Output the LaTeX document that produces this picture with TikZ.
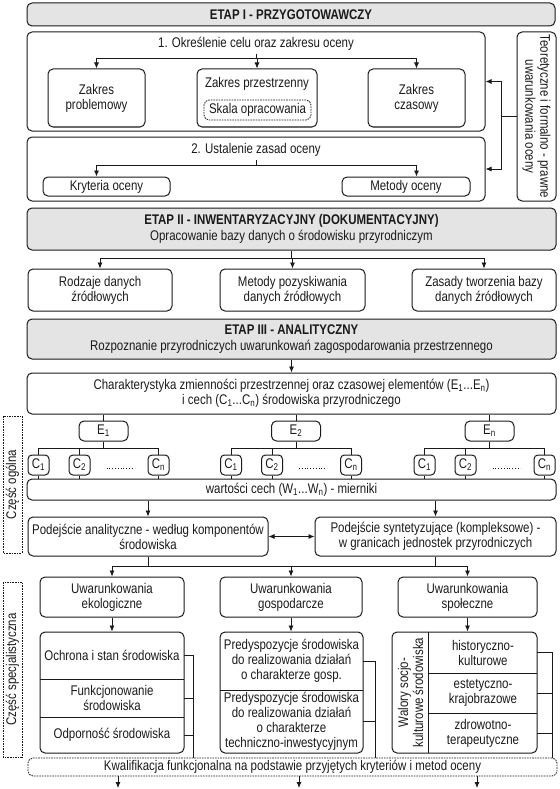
\documentclass[tikz,border=0pt]{standalone}
\usepackage{fontspec}
\setmainfont{Liberation Sans}[FakeStretch=0.82]
\usetikzlibrary{arrows.meta,positioning}
\definecolor{ink}{HTML}{1A1A1A}
\definecolor{stagegrey}{HTML}{E4E4E4}
\newcommand{\diagfont}{\fontsize{14}{15}\selectfont}

\begin{document}
\begin{tikzpicture}[x=1pt, y=-1pt, every node/.style={font=\diagfont, text=ink},
  spanning/.style n args={4}{at={({(#1+#3)/2},{(#2+#4)/2})}, minimum width={#3-#1}, minimum height={#4-#2}},
  box/.style={draw=ink, line width=1pt, rounded corners=5pt, inner sep=0pt, align=center},
  stage/.style={box, fill=stagegrey},
  dashbox/.style={box, dash pattern=on 1.6pt off 1pt, line width=0.8pt},
  cell/.style={inner sep=0pt, align=center},
  ebox/.style={box, minimum width=49pt, minimum height=20pt},
  cbox/.style={box, minimum width=21pt, minimum height=20pt, rounded corners=4pt},
  link/.style={draw=ink, line width=0.8pt},
  arr/.style={link, -{Latex[length=6pt,width=5pt]}},
]
\useasboundingbox (0,0) rectangle (559,789);

% ETAP I — przygotowawczy
\node[stage, spanning={27}{3}{555}{26}] (etapI) {\textbf{ETAP I - PRZYGOTOWAWCZY}};

\node[box, spanning={27}{32}{485}{131}] (cel) {};
\node (celT) at (256,44) {1. Określenie celu oraz zakresu oceny};
\node[box, spanning={48}{69}{145}{127}] (zakresProb) {Zakres\\problemowy};
\node[box, spanning={197}{69}{317}{127}] (zakresPrz) {};
\node (zakresPrzT) at (257,84) {Zakres przestrzenny};
\node[dashbox, spanning={204}{100}{311}{120}] (skala) {Skala opracowania};
\node[box, spanning={368}{69}{465}{127}] (zakresCzas) {Zakres\\czasowy};
\coordinate (bus1) at (0,58);
\draw[link] (celT.south) -- (celT.south |- bus1);
\draw[link] (zakresProb.north |- bus1) -- (zakresCzas.north |- bus1);
\foreach \n in {zakresProb, zakresPrz, zakresCzas}
  \draw[arr] (\n.north |- bus1) -- (\n.north);

\node[box, spanning={27}{137}{485}{201}] (zasady) {};
\node (zasadyT) at (256,150) {2. Ustalenie zasad oceny};
\node[box, spanning={43}{177}{170}{196}] (kryteria) {Kryteria oceny};
\node[box, spanning={342}{177}{470}{196}] (metody) {Metody oceny};
\coordinate (bus2) at (0,165);
\draw[link] (zasadyT.south) -- (zasadyT.south |- bus2);
\draw[link] (zakresProb.north |- bus2) -- (zakresCzas.north |- bus2);
\draw[arr] (zakresProb.north |- bus2) -- (zakresProb.north |- kryteria.north);
\draw[arr] (zakresCzas.north |- bus2) -- (zakresCzas.north |- metody.north);

% right column — uwarunkowania oceny
\node[box, rotate=-90, minimum width=169pt, minimum height=39pt] (teoria) at (536.5,116.5)
  {Teoretyczne i formalno - prawne\\uwarunkowania oceny};
\coordinate (tj) at (501,0);
\draw[link] (teoria.south) -- (teoria.south -| tj);
\draw[arr] (teoria.south -| tj) |- (cel.east);
\draw[arr] (teoria.south -| tj) |- (zasady.east);

% ETAP II — inwentaryzacyjny
\node[stage, spanning={27}{208}{556}{250}] (etapII)
  {\textbf{ETAP II - INWENTARYZACYJNY (DOKUMENTACYJNY)}\\[1pt]Opracowanie bazy danych o środowisku przyrodniczym};
\node[box, spanning={28}{269}{172}{311}] (rodzaje) {Rodzaje danych\\źródłowych};
\node[box, spanning={220}{269}{365}{311}] (pozysk) {Metody pozyskiwania\\danych źródłowych};
\node[box, spanning={412}{269}{556}{311}] (tworzenie) {Zasady tworzenia bazy\\danych źródłowych};
\coordinate (bus3) at (0,258);
\draw[link] (etapII.south) -- (etapII.south |- bus3);
\draw[link] (rodzaje.north |- bus3) -- (tworzenie.north |- bus3);
\foreach \n in {rodzaje, pozysk, tworzenie}
  \draw[arr] (\n.north |- bus3) -- (\n.north);

% ETAP III — analityczny
\node[stage, spanning={27}{319}{556}{359}] (etapIII)
  {\textbf{ETAP III - ANALITYCZNY}\\[1pt]Rozpoznanie przyrodniczych uwarunkowań zagospodarowania przestrzennego};
\node[box, spanning={27}{373}{556}{414}] (charakt)
  {Charakterystyka zmienności przestrzennej oraz czasowej elementów (E\textsubscript{1}...E\textsubscript{n})\\
   i cech (C\textsubscript{1}...C\textsubscript{n}) środowiska przyrodniczego};
\draw[arr] (etapIII) -- (charakt);
\node[box, spanning={27}{479}{556}{500}] (wartosci) {wartości cech (W\textsubscript{1}...W\textsubscript{n}) - mierniki};

% elements and their features
\foreach \e/\ex in {1/103.5, 2/296, n/489.5} {
  \node[ebox] (e\e) at (\ex,431) {E\textsubscript{\e}};
  \draw[link] (charakt.south -| e\e.north) -- (e\e.north);
  \coordinate (cbus\e) at (\ex,448);
  \draw[link] (e\e.south) -- (cbus\e);
  \foreach \c/\dx in {1/-65, 2/-24, n/55} {
    \node[cbox] (c\e\c) at (\ex+\dx,465) {C\textsubscript{\c}};
    \draw[link] (c\e\c.north |- cbus\e) -- (c\e\c.north);
    \draw[link] (c\e\c.south) -- (c\e\c.south |- wartosci.north);
  }
  \draw[link] (c\e 1.north |- cbus\e) -- (c\e n.north |- cbus\e);
  \draw[link, dotted, line width=0.5pt] ([xshift=16pt, yshift=-3pt]c\e 2.east) -- ([xshift=-13pt, yshift=-3pt]c\e n.west);
}

% approaches
\node[box, spanning={28}{517}{268}{556}] (analit) {Podejście analityczne - według komponentów\\środowiska};
\node[box, spanning={315}{517}{556}{556}] (syntet) {Podejście syntetyzujące (kompleksowe) -\\w granicach jednostek przyrodniczych};
\draw[arr] (wartosci.south -| analit.north) -- (analit.north);
\draw[arr] (wartosci.south -| syntet.north) -- (syntet.north);
\draw[link, {Latex[length=6pt,width=5pt]}-{Latex[length=6pt,width=5pt]}] (analit.east) -- (syntet.west);

% conditions
\coordinate (bus4) at (0,566);
\draw[link] (analit.south) -- (analit.south |- bus4);
\draw[link] (syntet.south) -- (syntet.south |- bus4);
\node[box, spanning={40}{577}{184}{617}] (ekol) {Uwarunkowania\\ekologiczne};
\node[box, spanning={220}{577}{362}{617}] (gosp) {Uwarunkowania\\gospodarcze};
\node[box, spanning={398}{577}{537}{617}] (spol) {Uwarunkowania\\społeczne};
\draw[link] (ekol.north |- bus4) -- (spol.north |- bus4);
\foreach \n in {ekol, gosp, spol}
  \draw[arr] (\n.north |- bus4) -- (\n.north);

% stacks — ekologiczne
\node[box, spanning={40}{632}{184}{753}] (stackA) {};
\node[cell, spanning={40}{632}{184}{679}] (ochrona) {Ochrona i stan środowiska};
\node[cell, spanning={40}{679}{184}{717}] (funkcj) {Funkcjonowanie\\środowiska};
\node[cell, spanning={40}{717}{184}{753}] (odporn) {Odporność środowiska};
\draw[link] (ochrona.south west) -- (ochrona.south east);
\draw[link] (funkcj.south west) -- (funkcj.south east);

% stacks — gospodarcze
\node[box, spanning={220}{632}{363}{753}] (stackB) {};
\node[cell, spanning={220}{632}{363}{690}] (predA) {Predyspozycje środowiska\\do realizowania działań\\o charakterze gosp.};
\node[cell, spanning={220}{690}{363}{753}] (predB) {Predyspozycje środowiska\\do realizowania działań\\o charakterze\\techniczno-inwestycyjnym};
\draw[link] (predA.south west) -- (predA.south east);

% stacks — społeczne
\node[box, spanning={392}{632}{537}{753}] (stackC) {};
\node[cell, rotate=90, minimum width=121pt, minimum height=37pt] (walory) at (410.5,692.5) {Walory socjo-\\kulturowe środowiska};
\node[cell, spanning={429}{632}{537}{673}] (hist) {historyczno-\\kulturowe};
\node[cell, spanning={429}{673}{537}{713}] (estet) {estetyczno-\\krajobrazowe};
\node[cell, spanning={429}{713}{537}{753}] (zdrow) {zdrowotno-\\terapeutyczne};
\draw[link] (hist.north west) -- (zdrow.south west);
\draw[link] (hist.south west) -- (hist.south east);
\draw[link] (estet.south west) -- (estet.south east);

\foreach \a/\b in {ekol/stackA, gosp/stackB, spol/stackC}
  \draw[arr] (\a.south) -- (\a.south |- \b.north);

% final qualification
\node[dashbox, spanning={28}{758}{557}{776}] (kwal) {Kwalifikacja funkcjonalna na podstawie przyjętych kryteriów i metod oceny};
\coordinate (brA) at (193,0);
\coordinate (brB) at (375,0);
\coordinate (brC) at (552,0);
\draw[link] (ochrona.east) -- (ochrona.east -| brA) -- (kwal.north -| brA);
\foreach \n in {funkcj, odporn}
  \draw[link] (\n.east) -- (\n.east -| brA);
\draw[link] (predA.east) -- (predA.east -| brB) -- (kwal.north -| brB);
\draw[link] (predB.east) -- (predB.east -| brB);
\draw[link] (hist.east) -- (hist.east -| brC) -- (kwal.north -| brC);
\foreach \n in {estet, zdrow}
  \draw[link] (\n.east) -- (\n.east -| brC);
\foreach \x [count=\i] in {118, 299, 477} {
  \coordinate (out\i) at (\x,788);
  \draw[arr] (kwal.south -| out\i) -- (out\i);
}

% side labels
\node[dashbox, rounded corners=0pt, rotate=90, minimum width=137pt, minimum height=19pt] (ogolna) at (12.5,484.5) {Część ogólna};
\node[dashbox, rounded corners=0pt, rotate=90, minimum width=175pt, minimum height=19pt] (specjal) at (12.5,669.5) {Część specjalistyczna};

\end{tikzpicture}
\end{document}
